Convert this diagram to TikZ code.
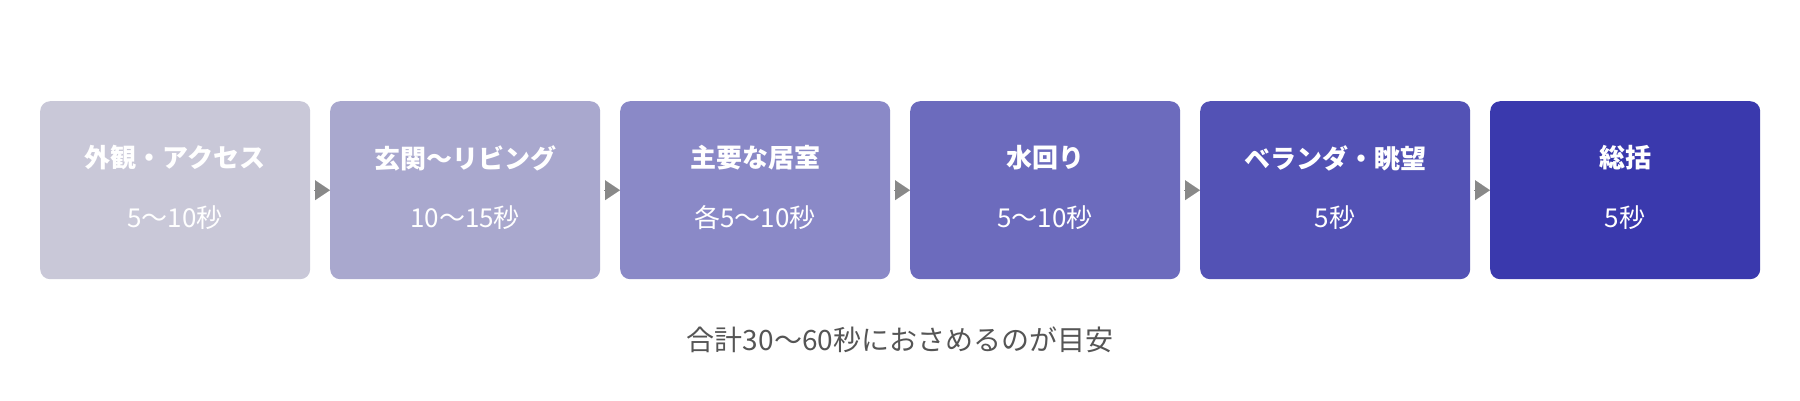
\documentclass[tikz,border=0pt]{standalone}
\usepackage{fontspec}
\setmainfont{Noto Sans CJK JP}
\newfontfamily\medfont{Noto Sans CJK JP Medium}
\usetikzlibrary{arrows.meta}
\definecolor{c1}{HTML}{C9C8D8}
\definecolor{c2}{HTML}{A9A8CE}
\definecolor{c3}{HTML}{8A89C7}
\definecolor{c4}{HTML}{6C6BBD}
\definecolor{c5}{HTML}{5352B5}
\definecolor{c6}{HTML}{3A39AD}
\definecolor{arrowgray}{HTML}{888888}
\definecolor{textgray}{HTML}{555555}
\tikzset{
  stepbox/.style={rounded corners=10pt, minimum width=270pt, minimum height=178pt, inner sep=0pt, anchor=north west},
  titletext/.style={text=white, font=\fontsize{26}{30}\selectfont\bfseries},
  subtext/.style={text=white, font=\fontsize{26}{30}\selectfont},
  flowarrow/.style={draw=arrowgray, line width=0.1pt, shorten <=4pt, -{Triangle[length=15pt,width=20pt,fill=arrowgray]}},
  notetext/.style={text=textgray, font=\fontsize{28}{32}\selectfont}
}
\begin{document}
\begin{tikzpicture}[x=1pt,y=-1pt]
\useasboundingbox[fill=white] (0,0) rectangle (1800,400);
\foreach \i/\t/\s [count=\k] in {0/外観・アクセス/5〜10秒, 1/玄関〜リビング/10〜15秒, 2/主要な居室/各5〜10秒, 3/水回り/5〜10秒, 4/ベランダ・眺望/5秒, 5/総括/5秒}{
  \node[stepbox, fill=c\k] (b\k) at (40+290*\i,101) {};
  \node[titletext] (t\k) at (175+290*\i,158) {\t};
  \node[subtext] (s\k) at (175+290*\i,218) {\s};
}
\foreach \a/\b in {1/2,2/3,3/4,4/5,5/6}{
  \draw[flowarrow] (b\a.east) -- (b\b.west);
}
\node[notetext] (note) at (900,340) {合計30〜60秒におさめるのが目安};
\end{tikzpicture}
\end{document}
